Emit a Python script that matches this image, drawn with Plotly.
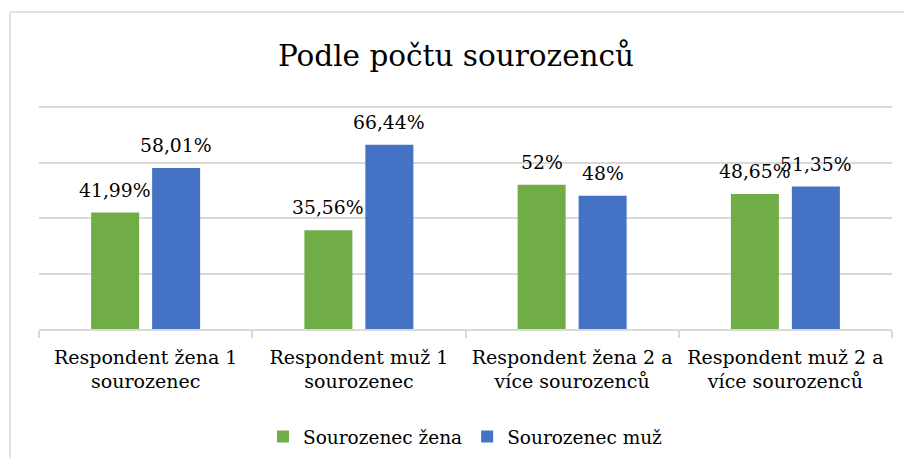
import plotly.graph_objects as go

# categories and values
categories = [
    "Respondent žena 1<br>sourozenec",
    "Respondent muž 1<br>sourozenec",
    "Respondent žena 2 a<br>více sourozenců",
    "Respondent muž 2 a<br>více sourozenců",
]
sourozenec_zena = [41.99, 35.56, 52, 48.65]
sourozenec_muz = [58.01, 66.44, 48, 51.35]
series_names = ["Sourozenec žena", "Sourozenec muž"]
title_text = "Podle počtu sourozenců"

# only serif face that resolves in the renderer
FONT = "DejaVu Serif"
GREEN = "#70AD47"
BLUE = "#4472C4"
GRID = "#d9d9d9"

# the page body has an 8px margin, so the figure is laid out 8px in from the window edge
W, H = 896, 450
L, R, T, B = 31, 12, 98, 129


def pct_label(v):
    # czech style: decimal comma
    return f"{v:g}".replace(".", ",") + "%"


fig = go.Figure()
fig.add_trace(go.Bar(x=categories, y=sourozenec_zena, name=series_names[0],
                     marker=dict(color=GREEN, line=dict(width=0))))
fig.add_trace(go.Bar(x=categories, y=sourozenec_muz, name=series_names[1],
                     marker=dict(color=BLUE, line=dict(width=0))))

# data labels above bars
for vals, shift in ((sourozenec_zena, -30.5), (sourozenec_muz, 30.5)):
    for cat, v in zip(categories, vals):
        fig.add_annotation(x=cat, y=v, text=pct_label(v), showarrow=False,
                           xshift=shift, yshift=10, yanchor="bottom",
                           font=dict(family=FONT, size=18.8, color="#000000"))

# light frame of the chart area (left and top edges visible)
fig.add_shape(type="line", xref="paper", yref="paper",
              x0=-0.034, x1=1.1, y0=1.4215, y1=1.4215,
              line=dict(color=GRID, width=1.5))
fig.add_shape(type="line", xref="paper", yref="paper",
              x0=-0.034, x1=-0.034, y0=1.4215, y1=-0.7,
              line=dict(color=GRID, width=1.5))

fig.update_layout(
    width=W, height=H,
    margin=dict(l=L, r=R, t=T, b=B, autoexpand=False),
    paper_bgcolor="white", plot_bgcolor="white",
    barmode="group", bargap=0.428, bargroupgap=0.213,
    font=dict(family=FONT, size=18.5, color="#000000"),
    title=dict(text=title_text, x=0.5, xanchor="center", y=0.893, yanchor="middle",
               yref="container", font=dict(family=FONT, size=29.5, color="#000000")),
    legend=dict(orientation="h", x=0.5, xanchor="center", y=0.047, yanchor="middle",
                yref="container", font=dict(family=FONT, size=18.5), itemwidth=30),
    showlegend=True,
)
fig.update_xaxes(showline=True, linecolor=GRID, linewidth=1.5, automargin=False,
                 ticks="outside", tickson="boundaries", ticklen=7, tickcolor=GRID,
                 tickwidth=1.5, ticklabelstandoff=10, tickangle=0,
                 tickfont=dict(family=FONT, size=19))
fig.update_yaxes(range=[0, 80.4], tickvals=[20, 40, 60, 80], showgrid=True,
                 gridcolor=GRID, gridwidth=1.5, automargin=False,
                 showticklabels=False, zeroline=False, showline=False)

fig.write_html("out.html")
